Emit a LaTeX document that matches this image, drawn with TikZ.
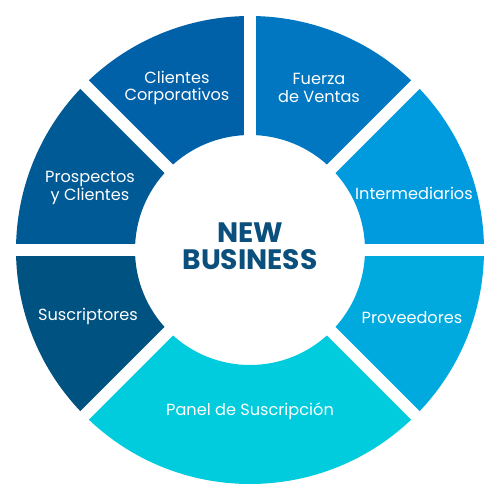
\documentclass[tikz,border=0pt]{standalone}
\usepackage{fontspec}
\setmainfont{Poppins}
\usetikzlibrary{positioning}

\definecolor{corpblue}{HTML}{0060A8}
\definecolor{salesblue}{HTML}{0077C0}
\definecolor{interblue}{HTML}{009BDF}
\definecolor{provblue}{HTML}{00AADF}
\definecolor{panelcyan}{HTML}{00CCDD}
\definecolor{subsblue}{HTML}{005280}
\definecolor{prosblue}{HTML}{005A96}
\definecolor{titleblue}{HTML}{0B4F7C}

\tikzset{
  seglabel/.style={text=white, align=center, font=\fontsize{9.2}{9.8}\selectfont},
  gapline/.style={white, line width=6.8pt}
}

\begin{document}
\begin{tikzpicture}[x=0.02cm, y=0.02cm]
	      \useasboundingbox (-250,-250) rectangle (250,250);
	      % ring segments
	      \foreach \a/\b/\col in {90/135/corpblue, 45/90/salesblue, 0/45/interblue,
	                              -45/0/provblue, -135/-45/panelcyan,
	                              180/225/subsblue, 135/180/prosblue}
	        \fill[\col] (\a:234) arc[start angle=\a, end angle=\b, radius=234]
	          -- (\b:115) arc[start angle=\b, end angle=\a, radius=115] -- cycle;
	      % white gaps
	      \foreach \g in {0,45,90,135,180,225,315}
	        \draw[gapline] (0,0) -- (\g:245);

	      \node[text=titleblue, align=center, font=\fontsize{16}{15.5}\selectfont\bfseries] (nb) at (0,4) {NEW\\BUSINESS};
	      \node[seglabel] (cc) at (-73,162) {Clientes\\Corporativos};
	      \node[seglabel] (fv) at (69,162) {Fuerza\\de Ventas};
	      \node[seglabel] (im) at (164,57) {Intermediarios};
	      \node[seglabel] (pv) at (162,-68) {Proveedores};
	      \node[seglabel] (ps) at (0,-161) {Panel de Suscripción};
	      \node[seglabel] (su) at (-162,-66) {Suscriptores};
	      \node[seglabel] (pc) at (-160,62) {Prospectos\\y Clientes};
	      \end{tikzpicture}
\end{document}
